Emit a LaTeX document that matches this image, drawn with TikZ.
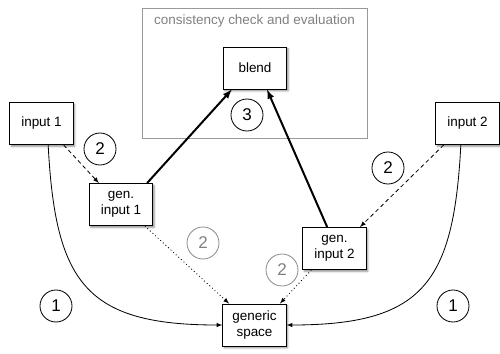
\documentclass[tikz,border=0pt]{standalone}
\usepackage{fontspec}
\setmainfont{Liberation Sans}
\usetikzlibrary{arrows,shadows.blur}

\begin{document}
\begin{tikzpicture}[
    x=0.03cm, y=-0.03cm,
    every node/.style={text=black, font=\fontsize{11.5}{13.5}\selectfont},
    sbox/.style={rectangle, draw, line width=0.8pt, fill=white, align=center,
        minimum width=1.9cm, minimum height=1.26cm, inner sep=1pt,
        blur shadow={shadow xshift=1.3pt, shadow yshift=-1.6pt, shadow blur radius=1.6pt, shadow opacity=45}},
    num/.style={circle, draw, line width=0.7pt, minimum size=0.96cm, inner sep=0pt,
        font=\fontsize{14.5}{15}\selectfont},
    gnum/.style={num, draw=black!45, text=black!50},
    link/.style={-latex, line width=0.7pt},
    gen/.style={link, dash pattern=on 3.4pt off 2.6pt},
    proj/.style={link, dash pattern=on 0.8pt off 2.2pt},
    bl/.style={-latex, line width=1.7pt}
]
    \useasboundingbox (0,0) rectangle (500,353);

    % evaluation frame
    \draw[black!40, line width=0.7pt] (142,8) rectangle (367,138);
    \node[text=black!50] (frame) at (254.5,21) {consistency check and evaluation};

    \node[sbox] (blend) at (255,68) {blend};
    \node[sbox] (in1) at (41.5,123.5) {input 1};
    \node[sbox] (in2) at (467.5,123.5) {input 2};
    \node[sbox] (gin1) at (121,204.5) {gen.\\input 1};
    \node[sbox] (gin2) at (334.5,248.5) {gen.\\input 2};
    \node[sbox] (gen) at (254.5,325) {generic\\space};

    % steps
    \node[num] (s1l) at (56,306) {1};
    \node[num] (s1r) at (453,306) {1};
    \node[num] (s2l) at (100,149) {2};
    \node[num] (s2r) at (388,168) {2};
    \node[gnum] (s2a) at (203,243) {2};
    \node[gnum] (s2b) at (282,270) {2};
    \node[num] (s3) at (247,115) {3};

    % connectors
    \draw[link] ([xshift=2mm]in1.south) to[out=-87, in=180, looseness=1.4] (gen.west);
    \draw[link] ([xshift=-2mm]in2.south) to[out=-93, in=0, looseness=1.4] (gen.east);
    \draw[gen] ([xshift=-3mm]in1.south east) -- ([xshift=3mm]gin1.north west);
    \draw[gen] ([xshift=2.5mm]in2.south west) -- ([xshift=-2mm]gin2.north east);
    \draw[proj] ([xshift=-2.5mm]gin1.south east) -- ([xshift=2mm]gen.north west);
    \draw[proj] ([xshift=2.7mm]gin2.south west) -- ([xshift=-2mm]gen.north east);
    \draw[bl] ([xshift=-1.8mm]gin1.north east) -- ([xshift=2.7mm]blend.south west);
    \draw[bl] ([xshift=-2.2mm]gin2.north) -- ([xshift=3.6mm]blend.south);
\end{tikzpicture}
\end{document}
